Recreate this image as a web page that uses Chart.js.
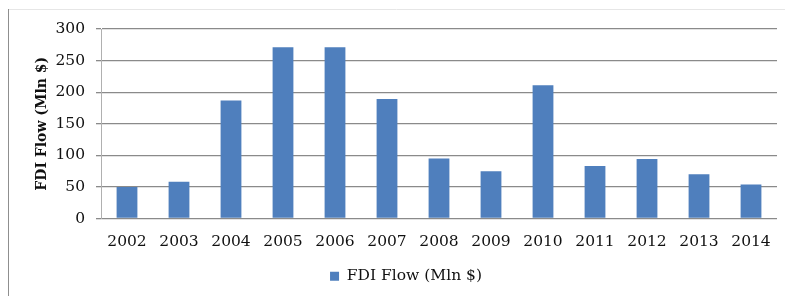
<!DOCTYPE html>
<html>
<head>
<meta charset="utf-8">
<script src="https://cdn.jsdelivr.net/npm/chart.js@4"></script>
<style>
  html, body { margin: 0; padding: 0; background: #fff; }
  #wrap { width: 785px; height: 296px; }
</style>
</head>
<body>
<div id="wrap"><canvas id="fdiChart" width="785" height="296"></canvas></div>
<script>
const years = ['2002', '2003', '2004', '2005', '2006', '2007', '2008', '2009', '2010', '2011', '2012', '2013', '2014'];
const fdiFlow = [50, 58, 187, 271, 271, 189, 95, 75, 211, 83, 94, 70, 54];
const seriesName = 'FDI Flow (Mln $)';
const yTicks = [0, 50, 100, 150, 200, 250, 300];

const serif = "'DejaVu Serif', serif";

// marco gris del recuadro original
const marco = {
    id: 'marco',
    beforeDraw(chart) {
        const ctx = chart.ctx;
        ctx.save();
        ctx.strokeStyle = '#e6e6e6';
        ctx.lineWidth = 1;
        ctx.beginPath();
        ctx.moveTo(8, 9.5);
        ctx.lineTo(785, 9.5);
        ctx.stroke();
        ctx.strokeStyle = '#8f8f8f';
        ctx.beginPath();
        ctx.moveTo(8.5, 9);
        ctx.lineTo(8.5, 296);
        ctx.stroke();
        ctx.restore();
    }
};

const ctx = document.getElementById('fdiChart').getContext('2d');
new Chart(ctx, {
    type: 'bar',
    data: {
        labels: years,
        datasets: [{
            label: seriesName,
            data: fdiFlow,
            backgroundColor: '#4f7fbd',
            borderWidth: 0,
            categoryPercentage: 0.8,
            barPercentage: 0.5
        }]
    },
    options: {
        responsive: false,
        animation: false,
        layout: {
            padding: { left: 34, right: 7, top: 29, bottom: 2 }
        },
        plugins: {
            legend: {
                position: 'bottom',
                labels: {
                    boxWidth: 9,
                    boxHeight: 9,
                    color: '#111',
                    font: { family: serif, size: 15.5 }
                }
            },
            tooltip: { enabled: false }
        },
        scales: {
            x: {
                grid: { display: false, drawTicks: false },
                border: { display: false },
                ticks: {
                    padding: 14,
                    color: '#111',
                    font: { family: serif, size: 15.5 }
                },
                afterFit(scale) { scale.height = 40; }
            },
            y: {
                min: 0,
                max: 300,
                afterBuildTicks(scale) {
                    scale.ticks = yTicks.map(v => ({ value: v }));
                },
                grid: { color: '#8a8a8a', lineWidth: 1.3, tickLength: 5 },
                border: { display: true, color: '#b0b0b0' },
                ticks: {
                    padding: 11,
                    color: '#111',
                    font: { family: serif, size: 15.5 }
                },
                title: {
                    display: true,
                    text: seriesName,
                    color: '#111',
                    padding: { top: 0, bottom: 0 },
                    font: { family: serif, size: 14, weight: 'bold' }
                },
                afterFit(scale) { scale.width = 67; }
            }
        }
    },
    plugins: [marco]
});
</script>
</body>
</html>
